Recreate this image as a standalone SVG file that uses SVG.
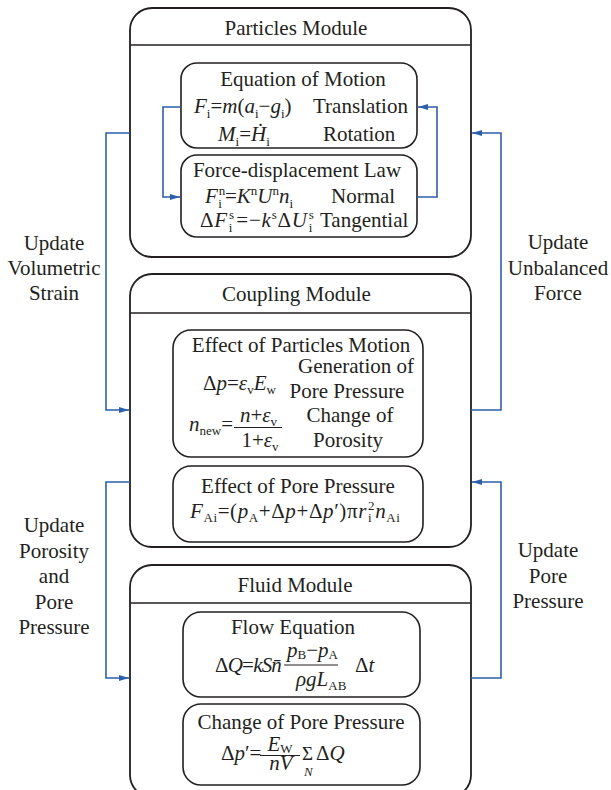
<svg xmlns="http://www.w3.org/2000/svg" width="611" height="790" viewBox="0 0 611 790">
<defs>
<style>
.mod{fill:none;stroke:#231f20;stroke-width:1.8}
.box{fill:none;stroke:#231f20;stroke-width:1.6}
.div{stroke:#231f20;stroke-width:1.6}
.conn{fill:none;stroke:#2d5fab;stroke-width:1.6;marker-end:url(#arr)}
.bar{stroke:#231f20;stroke-width:1}
text{font-family:"Liberation Serif","Times New Roman",serif;font-size:21px;fill:#231f20}
.c{text-anchor:middle}
.i{font-style:italic}
.s{font-size:13px;font-style:normal}
.si{font-size:13px;font-style:italic}
</style>
<marker id="arr" markerUnits="userSpaceOnUse" markerWidth="11" markerHeight="8" refX="10" refY="4" orient="auto">
<path d="M0,1 L10,4 L0,7 Z" fill="#2d5fab"/>
</marker>
</defs>
<rect width="611" height="790" fill="#ffffff"/>

<g id="particles-module">
<rect class="mod" x="130" y="8" width="341" height="249" rx="22"/>
<line class="div" x1="130" y1="45" x2="471" y2="45"/>
<text class="c" x="296" y="34.5">Particles Module</text>
</g>

<g id="equation-of-motion">
<rect class="box" x="181" y="63" width="236" height="85" rx="16"/>
<text class="c" x="303" y="86">Equation of Motion</text>
<text x="194" y="113"><tspan class="i">F</tspan><tspan class="s" dy="5">i</tspan><tspan dy="-5">=</tspan><tspan class="i">m</tspan><tspan>(</tspan><tspan class="i">a</tspan><tspan class="s" dy="5">i</tspan><tspan dy="-5">−</tspan><tspan class="i">g</tspan><tspan class="s" dy="5">i</tspan><tspan dy="-5">)</tspan></text>
<text x="313" y="113">Translation</text>
<text x="218" y="140.5"><tspan class="i">M</tspan><tspan class="s" dy="5">i</tspan><tspan dy="-5">=</tspan><tspan class="i">Ḣ</tspan><tspan class="s" dy="5">i</tspan></text>
<text x="323" y="140.5">Rotation</text>
</g>

<g id="force-displacement-law">
<rect class="box" x="181" y="155" width="236" height="82" rx="16"/>
<text class="c" x="297" y="176.5">Force-displacement Law</text>
<text x="205" y="202.5"><tspan class="i">F</tspan><tspan class="s" dx="1" dy="-8">n</tspan><tspan class="s" dx="-7" dy="13">i</tspan><tspan dx="3" dy="-5">=</tspan><tspan class="i">K</tspan><tspan class="s" dy="-8">n</tspan><tspan class="i" dy="8">U</tspan><tspan class="s" dy="-8">n</tspan><tspan class="i" dy="8">n</tspan><tspan class="s" dy="5">i</tspan></text>
<text x="331" y="202.5">Normal</text>
<text x="200" y="227" letter-spacing="0.8"><tspan>Δ</tspan><tspan class="i">F</tspan><tspan class="s" dx="1" dy="-8">s</tspan><tspan class="s" dx="-6" dy="13">i</tspan><tspan dx="3" dy="-5">=−</tspan><tspan class="i">k</tspan><tspan class="s" dy="-8">s</tspan><tspan dy="8">Δ</tspan><tspan class="i">U</tspan><tspan class="s" dx="1" dy="-8">s</tspan><tspan class="s" dx="-6" dy="13">i</tspan></text>
<text x="320" y="227">Tangential</text>
</g>

<g id="coupling-module">
<rect class="mod" x="130" y="274" width="341" height="273" rx="22"/>
<line class="div" x1="130" y1="313" x2="471" y2="313"/>
<text class="c" x="296.5" y="301">Coupling Module</text>
</g>

<g id="effect-of-particles-motion">
<rect class="box" x="173" y="330" width="250" height="127" rx="18"/>
<text class="c" x="301" y="351.5">Effect of Particles Motion</text>
<text class="c" x="356" y="372.5">Generation of</text>
<text x="203" y="390"><tspan>Δ</tspan><tspan class="i">p</tspan><tspan>=</tspan><tspan class="i">ε</tspan><tspan class="s" dy="4">v</tspan><tspan class="i" dy="-4">E</tspan><tspan class="s" dy="4">w</tspan></text>
<text class="c" x="347" y="398">Pore Pressure</text>
<text class="c" x="350" y="421.5">Change of</text>
<text x="189" y="431"><tspan class="i">n</tspan><tspan class="s" dy="4">new</tspan><tspan dy="-4">=</tspan></text>
<line class="bar" x1="234" y1="427.5" x2="282" y2="427.5"/>
<text class="c" x="258.5" y="422"><tspan class="i">n</tspan><tspan>+</tspan><tspan class="i">ε</tspan><tspan class="s" dy="4">v</tspan></text>
<text class="c" x="260" y="447"><tspan>1+</tspan><tspan class="i">ε</tspan><tspan class="s" dy="4">v</tspan></text>
<text class="c" x="348" y="446.5">Porosity</text>
</g>

<g id="effect-of-pore-pressure">
<rect class="box" x="173" y="466" width="250" height="76" rx="18"/>
<text class="c" x="298" y="493">Effect of Pore Pressure</text>
<text x="190" y="517.5" letter-spacing="0.6"><tspan class="i">F</tspan><tspan class="s" dy="4">Ai</tspan><tspan dy="-4">=(</tspan><tspan class="i">p</tspan><tspan class="s" dy="4">A</tspan><tspan dy="-4">+Δ</tspan><tspan class="i">p</tspan><tspan>+Δ</tspan><tspan class="i">p</tspan><tspan>′)π</tspan><tspan class="i">r</tspan><tspan class="s" dx="1" dy="-8">2</tspan><tspan class="s" dx="-7" dy="12">i</tspan><tspan class="i" dx="3" dy="-4">n</tspan><tspan class="s" dy="4">Ai</tspan></text>
</g>

<g id="fluid-module">
<rect class="mod" x="130" y="565" width="341" height="232" rx="22"/>
<line class="div" x1="130" y1="603" x2="471" y2="603"/>
<text class="c" x="295" y="592">Fluid Module</text>
</g>

<g id="flow-equation">
<rect class="box" x="183" y="612" width="237" height="85" rx="18"/>
<text class="c" x="293" y="634">Flow Equation</text>
<text x="215" y="672" letter-spacing="-0.8"><tspan>Δ</tspan><tspan class="i">Q</tspan><tspan>=</tspan><tspan class="i">kSn̄</tspan></text>
<line class="bar" x1="284" y1="665" x2="338" y2="665"/>
<text x="287" y="657"><tspan class="i">p</tspan><tspan class="s" dy="2">B</tspan><tspan dy="-2">−</tspan><tspan class="i">p</tspan><tspan class="s" dy="2">A</tspan></text>
<text x="296" y="686"><tspan class="i">ρgL</tspan><tspan class="s" dy="4">AB</tspan></text>
<text x="355" y="672"><tspan>Δ</tspan><tspan class="i">t</tspan></text>
</g>

<g id="change-of-pore-pressure">
<rect class="box" x="183" y="704" width="237" height="81" rx="18"/>
<text class="c" x="301" y="729">Change of Pore Pressure</text>
<text x="221" y="760"><tspan>Δ</tspan><tspan class="i">p</tspan><tspan>′=</tspan></text>
<line class="bar" x1="260" y1="755.5" x2="300" y2="755.5"/>
<text class="c" x="280" y="751"><tspan class="i">E</tspan><tspan class="s" dy="2">W</tspan></text>
<text class="c" x="281" y="770"><tspan class="i">nV</tspan></text>
<text x="302" y="760" style="font-size:19px">Σ</text>
<text class="si" x="304" y="776">N</text>
<text x="316" y="760"><tspan>Δ</tspan><tspan class="i">Q</tspan></text>
</g>

<g id="connectors">
<path class="conn" d="M181,107 H163 V197 H180"/>
<path class="conn" d="M417,197 H437 V107 H418"/>
<path class="conn" d="M130,133 H106 V410 H129"/>
<path class="conn" d="M471,410 H501 V133 H472"/>
<path class="conn" d="M130,482 H106 V678 H129"/>
<path class="conn" d="M471,678 H501 V482 H472"/>
</g>

<g id="labels">
<text class="c" x="54" y="250">Update</text>
<text class="c" x="54" y="275">Volumetric</text>
<text class="c" x="54" y="300">Strain</text>
<text class="c" x="558" y="249">Update</text>
<text class="c" x="558" y="275">Unbalanced</text>
<text class="c" x="558" y="300">Force</text>
<text class="c" x="54" y="532">Update</text>
<text class="c" x="54" y="557.5">Porosity</text>
<text class="c" x="54" y="583">and</text>
<text class="c" x="54" y="608.5">Pore</text>
<text class="c" x="54" y="634">Pressure</text>
<text class="c" x="548" y="557">Update</text>
<text class="c" x="548" y="583">Pore</text>
<text class="c" x="548" y="608">Pressure</text>
</g>
</svg>
